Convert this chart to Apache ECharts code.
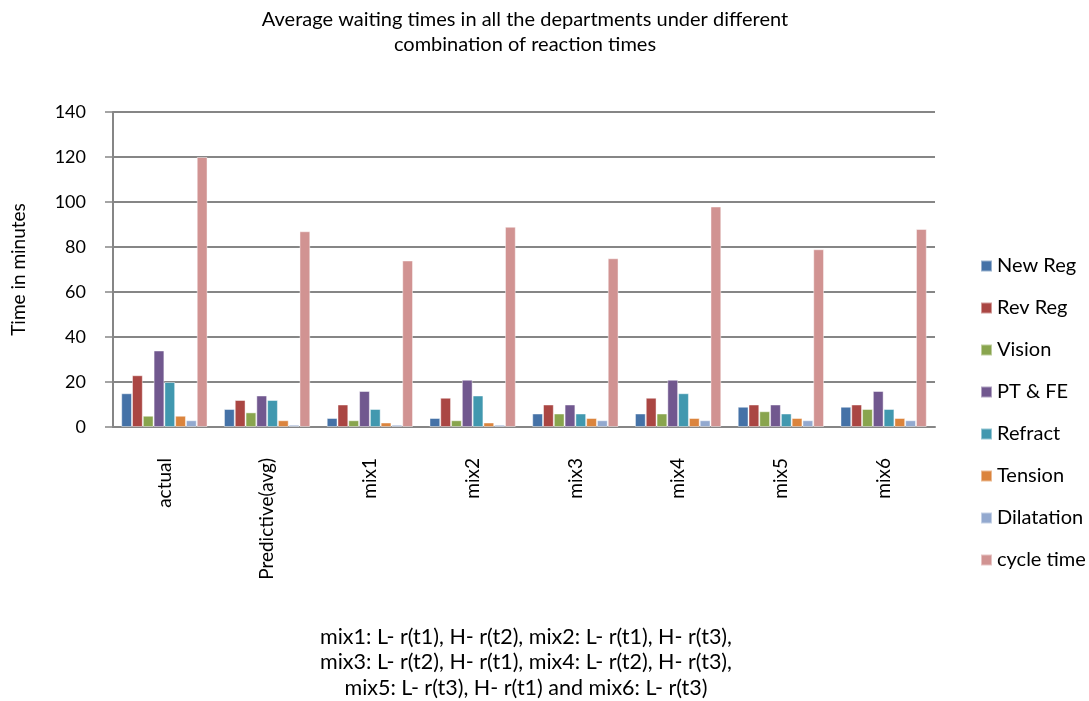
<!DOCTYPE html>
<html>
<head>
<meta charset="utf-8">
<script src="https://cdn.jsdelivr.net/npm/echarts@6/dist/echarts.min.js"></script>
<style>
  html, body { margin: 0; padding: 0; background: #fff; }
  #chart { width: 1089px; height: 701px; }
</style>
</head>
<body>
<div id="chart"></div>
<script>
// Categories (x axis)
const categories = ['actual', 'Predictive(avg)', 'mix1', 'mix2', 'mix3', 'mix4', 'mix5', 'mix6'];

// Average waiting times per department (minutes)
const newReg     = [15, 8, 4, 4, 6, 6, 9, 9];
const revReg     = [23, 12, 10, 13, 10, 13, 10, 10];
const vision     = [5, 6.5, 3, 3, 6, 6, 7, 8];
const ptFe       = [34, 14, 16, 21, 10, 21, 10, 16];
const refract    = [20, 12, 8, 14, 6, 15, 6, 8];
const tension    = [5, 3, 2, 2, 4, 4, 4, 4];
const dilatation = [3, 1, 1, 1, 3, 3, 3, 3];
const cycleTime  = [120, 87, 74, 89, 75, 98, 79, 88];

const seriesNames = ['New Reg', 'Rev Reg', 'Vision', 'PT & FE', 'Refract', 'Tension', 'Dilatation', 'cycle time'];
const seriesData = [newReg, revReg, vision, ptFe, refract, tension, dilatation, cycleTime];
const colors = ['#4572A7', '#AA4643', '#89A54E', '#71588F', '#4198AF', '#DB843D', '#93A9CF', '#D19392'];

const titleLines = [
  'Average waiting times in all the departments under different',
  'combination of reaction times'
];
const noteLines = [
  'mix1: L- r(t1), H- r(t2), mix2: L- r(t1), H- r(t3),',
  'mix3: L- r(t2), H- r(t1), mix4: L- r(t2), H- r(t3),',
  'mix5: L- r(t3), H- r(t1) and mix6: L- r(t3)'
];

const FONT = 'Lato, "DejaVu Sans", sans-serif';

function textBlock(lines, cx, firstY, step, size) {
  return lines.map((t, i) => ({
    type: 'text',
    x: cx, y: firstY + i * step,
    style: {
      text: t, fill: '#000', align: 'center', verticalAlign: 'middle',
      font: size + 'px ' + FONT
    }
  }));
}

const chart = echarts.init(document.getElementById('chart'), null, { renderer: 'canvas' });

chart.setOption({
  animation: false,
  color: colors,
  textStyle: { fontFamily: FONT, color: '#000' },
  graphic: [
    ...textBlock(titleLines, 525, 20, 25, 20),
    ...textBlock(noteLines, 526, 637, 25.5, 21.5)
  ],
  legend: {
    orient: 'vertical',
    left: 975, top: 251,
    itemWidth: 11, itemHeight: 11,
    itemGap: 22,
    icon: 'rect',
    data: seriesNames,
    textStyle: { fontFamily: FONT, fontSize: 20, color: '#000' }
  },
  grid: {
    left: 113, right: 154, top: 112, bottom: 274,
    containLabel: false,
    outerBoundsMode: 'none'
  },
  xAxis: {
    type: 'category',
    data: categories,
    axisLine: { lineStyle: { color: '#868686', width: 2 } },
    axisTick: { show: false },
    axisLabel: { rotate: 90, fontFamily: FONT, fontSize: 19, color: '#000', margin: 31 },
    splitLine: { show: false }
  },
  yAxis: {
    type: 'value',
    min: 0, max: 140, interval: 20,
    name: 'Time in minutes',
    nameLocation: 'middle',
    nameGap: 85,
    nameRotate: 90,
    nameTextStyle: { fontFamily: FONT, fontSize: 19, color: '#000' },
    axisLine: { show: true, lineStyle: { color: '#868686', width: 2 } },
    axisTick: { show: true, length: 8, lineStyle: { color: '#868686', width: 1.5 } },
    axisLabel: { fontFamily: FONT, fontSize: 18, color: '#000', margin: 27 },
    splitLine: { lineStyle: { color: '#868686', width: 2 } }
  },
  series: seriesNames.map((name, i) => ({
    name: name,
    type: 'bar',
    data: seriesData[i],
    barGap: '0%',
    barCategoryGap: '16%',
    itemStyle: { borderColor: 'rgba(255,255,255,0.45)', borderWidth: 1 }
  }))
});
</script>
</body>
</html>
